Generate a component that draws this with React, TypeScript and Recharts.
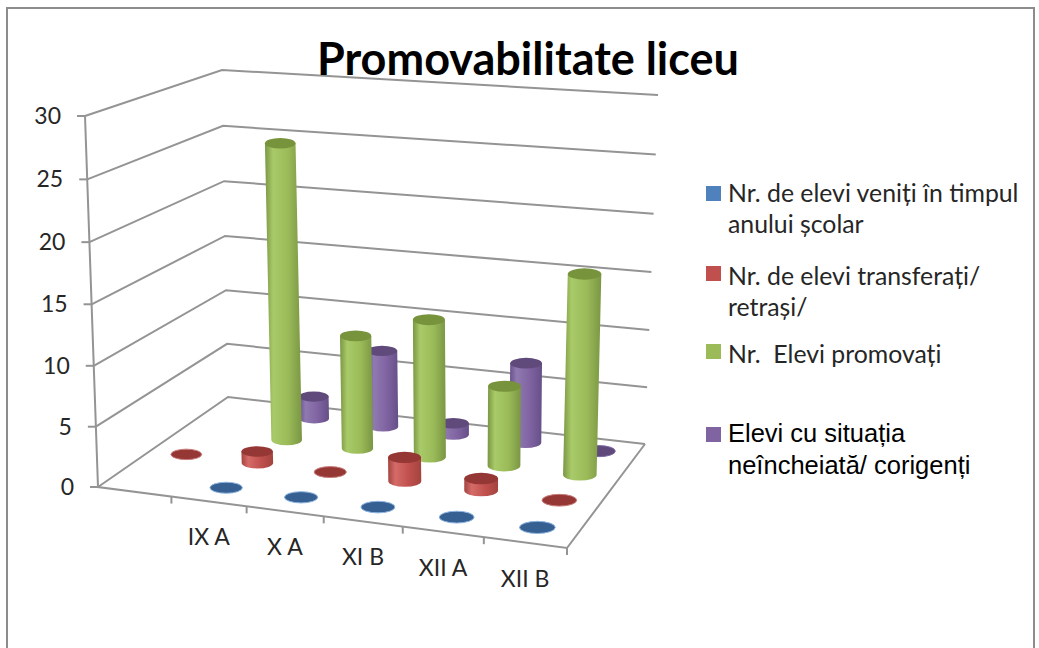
import { Bar, BarChart, CartesianGrid, Customized, Legend, XAxis, YAxis } from "recharts"

const W = 1039
const H = 648

// first category has no label in the source sheet, only a red zero
const categories = ["", "IX A", "X A", "XI B", "XII A", "XII B"]
const venitiValues = [null, 0, 0, 0, 0, 0]
const transferatiValues = [0, 1, 0, 2, 1, 0]
const promovatiValues = [null, 25.7, 9.8, 11.8, 6.8, 16.8]
const neincheiataValues = [null, 2, 6.8, 1, 7, 0]
const yTicks = [0, 5, 10, 15, 20, 25, 30]

const data = categories.map((name, i) => ({
  name,
  veniti: venitiValues[i],
  transferati: transferatiValues[i],
  promovati: promovatiValues[i],
  neincheiata: neincheiataValues[i],
}))

type Pt = [number, number]

// corners of the floor and of the top of the box, order: front-left, front-right, back-right, back-left
const floorQuad: Pt[] = [[98, 487], [567, 548], [645, 444], [228, 397]]
const topQuad: Pt[] = [[85, 116], [577, 152], [658, 95], [222, 70]]

function quadMap(q: Pt[]) {
  const [[x0, y0], [x1, y1], [x2, y2], [x3, y3]] = q
  const dx1 = x1 - x2
  const dx2 = x3 - x2
  const sx = x0 - x1 + x2 - x3
  const dy1 = y1 - y2
  const dy2 = y3 - y2
  const sy = y0 - y1 + y2 - y3
  const det = dx1 * dy2 - dx2 * dy1
  const g = (sx * dy2 - dx2 * sy) / det
  const h = (dx1 * sy - sx * dy1) / det
  const a = x1 - x0 + g * x1
  const b = x3 - x0 + h * x3
  const d = y1 - y0 + g * y1
  const e = y3 - y0 + h * y3
  return (u: number, w: number): Pt => {
    const t = g * u + h * w + 1
    return [(a * u + b * w + x0) / t, (d * u + e * w + y0) / t]
  }
}

const floorMap = quadMap(floorQuad)
const topMap = quadMap(topQuad)

function project(u: number, w: number, v: number): Pt {
  const f = floorMap(u, w)
  const t = topMap(u, w)
  // the height steps grow a little towards the top of the box
  const s = v - 0.03 * v * (1 - v)
  return [f[0] + (t[0] - f[0]) * s, f[1] + (t[1] - f[1]) * s]
}

const pts = (list: Pt[]) => list.map((p) => p.join(",")).join(" ")

const gridColor = "#949494"
const textColor = "#262626"
const font = "Lato, sans-serif"

function Cylinder(props: any, gradient: string, topFill: string, rimFill: string) {
  const { x, y, width, height } = props
  if (x == null || y == null || props.value == null) return null
  const cx = x + width / 2
  const band = W / categories.length
  const i = Math.floor(cx / band)
  const w = 1 - (cx - i * band) / band
  const u = ((i + 0.5) * band) / W
  const d = (width * 0.88) / W
  const l = project(u - d, w, 0)
  const r = project(u + d, w, 0)
  const rx = (r[0] - l[0]) / 2
  const ry = rx * 0.34
  const v = 1 - y / H
  const base = project(u, w, 0)
  const top = project(u, w, v)
  if (height < 0.5) {
    return <ellipse cx={base[0]} cy={base[1]} rx={rx} ry={ry} fill={topFill} stroke={rimFill} strokeWidth={1} />
  }
  const body = `M${top[0] - rx},${top[1]} L${base[0] - rx},${base[1]} A${rx},${ry} 0 0 0 ${base[0] + rx},${base[1]} L${top[0] + rx},${top[1]} Z`
  return (
    <g>
      <path d={body} fill={`url(#${gradient})`} />
      <ellipse cx={top[0]} cy={top[1]} rx={rx} ry={ry} fill={topFill} />
    </g>
  )
}

function WallLine(props: any) {
  const v = 1 - props.y1 / H
  return (
    <polyline
      points={pts([project(0, 0, v), project(0, 1, v), project(1, 1, v)])}
      fill="none"
      stroke={gridColor}
      strokeWidth={2}
    />
  )
}

function YTick(props: any) {
  const v = 1 - props.payload.coordinate / H
  const [x, y] = project(0, 0, v)
  return (
    <g>
      <line x1={x - 8} y1={y} x2={x} y2={y} stroke={gridColor} strokeWidth={2} />
      <text x={x - 24} y={y + 8} textAnchor="end" fontFamily={font} fontSize={23} fill={textColor}>
        {props.payload.value}
      </text>
    </g>
  )
}

function XTick(props: any) {
  const u = props.payload.coordinate / W
  const [x, y] = project(u, 0, 0)
  return (
    <text x={x} y={y + 44} textAnchor="middle" fontFamily={font} fontSize={23} fill={textColor}>
      {props.payload.value}
    </text>
  )
}

function BoxFrame() {
  const edgeTicks = categories.map((_, i) => (i + 1) / categories.length)
  return (
    <g>
      <polyline
        points={pts([project(0, 0, 1), project(0, 0, 0), project(1, 0, 0), project(1, 1, 0)])}
        fill="none"
        stroke={gridColor}
        strokeWidth={2}
      />
      {edgeTicks.map((t) => {
        const [x, y] = project(t, 0, 0)
        return <line key={t} x1={x} y1={y} x2={x} y2={y + 7} stroke={gridColor} strokeWidth={2} />
      })}
      <text x={528} y={75} textAnchor="middle" fontFamily={font} fontWeight={700} fontSize={45} fill="#000">
        Promovabilitate liceu
      </text>
    </g>
  )
}

// top of every legend entry, in the order of the reference
const legendTops: Record<string, number> = { veniti: 177, transferati: 260, promovati: 338, neincheiata: 417 }
const legendOrder = ["veniti", "transferati", "promovati", "neincheiata"]

function ChartLegend(props: any) {
  const entries = legendOrder.map((k) => props.payload.find((p: any) => p.dataKey === k)).filter(Boolean)
  return (
    <div style={{ width: 0, height: 0 }}>
      {entries.map((e: any) => {
        const isLast = e.dataKey === "neincheiata"
        return (
          <div key={e.dataKey}>
            <div
              style={{
                position: "absolute",
                left: 707,
                top: legendTops[e.dataKey] + (e.dataKey === "veniti" ? 9 : isLast ? 10 : 6),
                width: 15,
                height: 15,
                background: e.color,
              }}
            />
            <div
              style={{
                position: "absolute",
                left: 729,
                top: legendTops[e.dataKey],
                width: isLast ? 270 : 300,
                fontFamily: isLast ? "'Liberation Sans', sans-serif" : font,
                fontSize: isLast ? 25.5 : 24.8,
                lineHeight: isLast ? "32px" : "31px",
                whiteSpace: "pre-wrap",
                color: isLast ? "#000" : textColor,
              }}
            >
              {e.value}
            </div>
          </div>
        )
      })}
    </div>
  )
}

function sideGradient(id: string, dark: string, mid: string, light: string) {
  return (
    <linearGradient id={id} x1="0" y1="0" x2="1" y2="0">
      <stop offset="0%" stopColor={dark} />
      <stop offset="22%" stopColor={light} />
      <stop offset="62%" stopColor={mid} />
      <stop offset="100%" stopColor={dark} />
    </linearGradient>
  )
}

export default function App() {
  return (
    <div style={{ position: "absolute", left: 0, top: 0, width: W, height: H, overflow: "hidden", background: "#fff" }}>
      <div
        style={{
          position: "absolute",
          left: 6,
          top: 7,
          width: 1029,
          height: 660,
          border: "2px solid #8c8c8c",
          boxSizing: "border-box",
        }}
      />
      <BarChart
        width={W}
        height={H}
        data={data}
        margin={{ top: 0, right: 0, bottom: -1, left: -1 }}
        barGap={0}
        barCategoryGap={0}
        style={{ position: "absolute", left: 0, top: 0 }}
      >
        <defs>
          {sideGradient("cylBlue", "#44709f", "#4f81bd", "#6f9bd0")}
          {sideGradient("cylRed", "#a3443f", "#c0504d", "#d56b68")}
          {sideGradient("cylGreen", "#7a9643", "#9bbb59", "#a9ca68")}
          {sideGradient("cylPurple", "#664f88", "#8064a2", "#9079b0")}
        </defs>
        <CartesianGrid vertical={false} horizontal={WallLine} />
        <Customized component={BoxFrame} />
        <XAxis dataKey="name" height={1} axisLine={false} tickLine={false} interval={0} tick={XTick} />
        <YAxis width={1} domain={[0, 30]} ticks={yTicks} interval={0} axisLine={false} tickLine={false} tick={YTick} />
        <Legend verticalAlign="top" content={ChartLegend} wrapperStyle={{ width: 0, height: 0 }} />
        {/* back to front, so nearer cylinders cover the ones behind */}
        <Bar
          dataKey="neincheiata"
          name="Elevi cu situația neîncheiată/ corigenți"
          fill="#8064a2"
          isAnimationActive={false}
          shape={(p: any) => Cylinder(p, "cylPurple", "#604a7b", "#7d68a0")}
        />
        <Bar
          dataKey="promovati"
          name="Nr.  Elevi promovați"
          fill="#9bbb59"
          isAnimationActive={false}
          shape={(p: any) => Cylinder(p, "cylGreen", "#77933c", "#a9ca68")}
        />
        <Bar
          dataKey="transferati"
          name="Nr. de elevi transferați/ retrași/"
          fill="#c0504d"
          isAnimationActive={false}
          shape={(p: any) => Cylinder(p, "cylRed", "#953735", "#c87c7a")}
        />
        <Bar
          dataKey="veniti"
          name="Nr. de elevi veniți în timpul anului școlar"
          fill="#4f81bd"
          isAnimationActive={false}
          shape={(p: any) => Cylinder(p, "cylBlue", "#376092", "#8db4e2")}
        />
      </BarChart>
    </div>
  )
}
